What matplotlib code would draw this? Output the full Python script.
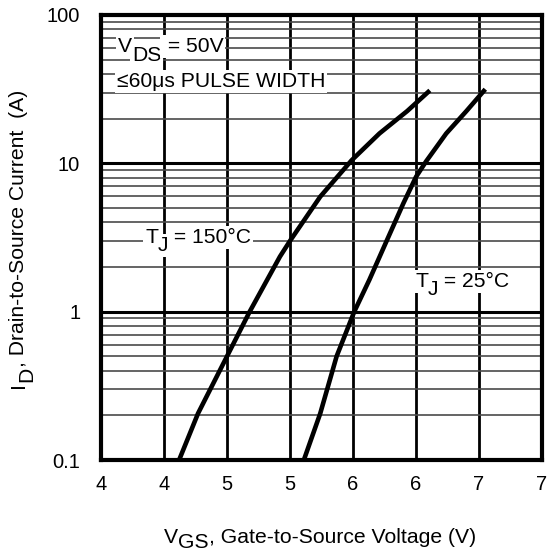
import matplotlib
matplotlib.use("Agg")
import matplotlib.pyplot as plt
from matplotlib.ticker import FixedLocator, NullLocator
from matplotlib.transforms import IdentityTransform

plt.rcParams['font.family'] = ['Liberation Sans', 'DejaVu Sans']

# Data
vgs_150 = [4.62, 4.77, 5.00, 5.18, 5.42, 5.50, 5.74, 5.99, 6.21, 6.43, 6.61]
id_150 = [0.1, 0.206, 0.5, 1.0, 2.35, 3.0, 5.96, 10.5, 15.9, 22.5, 31.0]
vgs_25 = [5.61, 5.74, 5.87, 6.01, 6.13, 6.27, 6.40, 6.50, 6.58, 6.74, 6.90, 7.05]
id_25 = [0.1, 0.206, 0.5, 1.0, 1.64, 3.04, 5.38, 8.1, 10.3, 15.9, 22.5, 31.6]

x_ticks = [4.0, 4.5, 5.0, 5.5, 6.0, 6.5, 7.0, 7.5]
x_ticklabels = ["4", "4", "5", "5", "6", "6", "7", "7"]
y_ticks = [0.1, 1, 10, 100]
y_ticklabels = ["0.1", "1", "10", "100"]

W, H = 550, 554
FS = 15.2
fig = plt.figure(figsize=(W / 100, H / 100), dpi=100)
ax = fig.add_axes([101/W, 1 - 460/H, (542-101)/W, (460-15)/H])
ax.set_yscale('log')
ax.set_xlim(4.0, 7.5)
ax.set_ylim(0.1, 100)

# grid
for xv in x_ticks[1:-1]:
    ax.axvline(xv, color='black', lw=2.0, zorder=1)
for dec in [0.1, 1, 10]:
    for m in range(2, 10):
        ax.axhline(dec * m, color='#4a4a4a', lw=1.2, zorder=1)
for yv in [1, 10]:
    ax.axhline(yv, color='black', lw=2.2, zorder=1)

ax.plot(vgs_150, id_150, color='black', lw=3.3, zorder=3,
        solid_joinstyle='round', solid_capstyle='butt')
ax.plot(vgs_25, id_25, color='black', lw=3.3, zorder=3,
        solid_joinstyle='round', solid_capstyle='butt')

for s in ax.spines.values():
    s.set_linewidth(3)

ax.xaxis.set_major_locator(FixedLocator(x_ticks))
ax.set_xticklabels(x_ticklabels)
ax.yaxis.set_major_locator(FixedLocator(y_ticks))
ax.set_yticklabels(y_ticklabels)
ax.yaxis.set_minor_locator(NullLocator())
ax.xaxis.set_minor_locator(NullLocator())
ax.tick_params(axis='both', length=0, labelsize=14.5)
ax.tick_params(axis='x', pad=11)
ax.tick_params(axis='y', pad=15)

renderer = fig.canvas.get_renderer()


def rich_text(x_img, y_img, pieces, rotation=0, box=False):
    """pieces: list of (text, shift_px) ; shift > 0 lowers the piece (subscript)."""
    x = x_img
    y = H - y_img
    for s, shift in pieces:
        kw = dict(fontsize=FS, transform=IdentityTransform(), ha='left',
                  va='baseline', rotation=rotation, rotation_mode='anchor',
                  zorder=5)
        if box:
            kw['bbox'] = dict(facecolor='white', edgecolor='none', pad=1.2)
        if rotation == 0:
            t = fig.text(x, y - shift, s, **kw)
            ex = t.get_window_extent(renderer)
            x += ex.width
        else:
            t = fig.text(x + shift, y, s, **kw)
            ex = t.get_window_extent(renderer)
            y += ex.height


rich_text(118, 52, [("V", 0), ("DS", 9), (" = 50V", 0)], box=True)
rich_text(117, 87, [("≤60μs PULSE WIDTH", 0)], box=True)
rich_text(145, 243, [("T", 0), ("J", 8), (" = 150°C", 0)], box=True)
rich_text(415, 287, [("T", 0), ("J", 8), (" = 25°C", 0)], box=True)

rich_text(164, 543, [("V", 0), ("GS", 5), (", Gate-to-Source Voltage (V)", 0)])
rich_text(24, 388, [("I", 0), ("D", 8), (", Drain-to-Source Current  (A)", 0)], rotation=90)

fig.savefig('out.png', dpi=100)
